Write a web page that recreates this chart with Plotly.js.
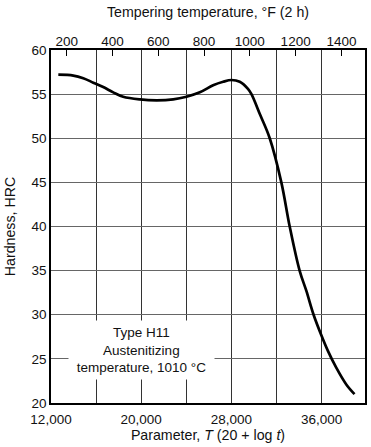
<!DOCTYPE html>
<html>
<head>
<meta charset="utf-8">
<script src="https://cdn.plot.ly/plotly-3.0.1.min.js"></script>
<style>html,body{margin:0;padding:0;background:#fff;}#chart{width:371px;height:447px;}</style>
</head>
<body>
<div id="chart"></div>
<script>
// Tempering parameter P = T(20 + log t), T in deg Rankine, t = 2 h
const parameter = [12650, 13980, 14860, 15750, 16630, 17520, 18400, 19890, 21370, 22840, 24020, 25200, 26380, 27270, 28010, 28740, 29470, 29780, 30570, 31400, 32430, 33170, 34050, 34650, 35290, 35970, 36560, 37300, 38190, 38920];
const hardness  = [57.2, 57.1, 56.8, 56.3, 55.8, 55.2, 54.7, 54.4, 54.3, 54.4, 54.7, 55.2, 56.0, 56.4, 56.6, 56.4, 55.6, 55.0, 52.6, 50.0, 45.0, 40.0, 35.0, 32.7, 30.0, 27.7, 25.9, 24.0, 22.1, 21.0];
const bottomTicks = [12000, 20000, 28000, 36000];
const topTicksF = [200, 400, 600, 800, 1000, 1200, 1400];
const pRange = [12000, 39850];
const logFactor = 20.3; // 20 + log(2)
const toF = p => p / logFactor - 460;

const font = {family: "Liberation Sans, Arial, sans-serif", size: 13.5, color: "#111"};
const titleFont = {family: "Liberation Sans, Arial, sans-serif", size: 14.2, color: "#111"};

const traces = [
  {x: parameter, y: hardness, type: "scatter", mode: "lines",
   line: {color: "#000", width: 2.7, shape: "spline", smoothing: 1},
   hoverinfo: "skip", showlegend: false},
  {x: [], y: [], xaxis: "x2", type: "scatter", mode: "none", showlegend: false, hoverinfo: "skip"}
];

const layout = {
  width: 371, height: 447,
  margin: {l: 51, r: 6, t: 50, b: 44},
  paper_bgcolor: "#fff", plot_bgcolor: "#fff",
  font: font,
  showlegend: false,
  xaxis: {
    range: pRange, tickvals: bottomTicks, tickformat: ",d",
    ticks: "", ticklabelstandoff: 3, showgrid: true, gridcolor: "#333", gridwidth: 1,
    minor: {dtick: 4000, tick0: 12000, showgrid: true, gridcolor: "#333", gridwidth: 1},
    showline: true, mirror: true, linecolor: "#000", linewidth: 1.7,
    zeroline: false, tickfont: font,
    title: {text: "Parameter, <i>T</i> (20 + log <i>t</i>)", font: titleFont, standoff: 4}
  },
  xaxis2: {
    overlaying: "x", side: "top", anchor: "y",
    range: [toF(pRange[0]), toF(pRange[1])],
    tickvals: topTicksF, ticks: "inside", ticklen: 6, tickwidth: 1, tickcolor: "#000",
    showgrid: false, zeroline: false, showline: false, tickfont: font,
    title: {text: "Tempering temperature, °F (2 h)", font: titleFont, standoff: 13}
  },
  yaxis: {
    range: [20, 60], dtick: 5, ticks: "", showgrid: true, gridcolor: "#666", gridwidth: 1,
    showline: true, mirror: true, linecolor: "#000", linewidth: 1.7,
    zeroline: false, tickfont: font,
    title: {text: "Hardness, HRC", font: titleFont, standoff: 12}
  },
  annotations: [{
    x: 20060, y: 26.0, xref: "x", yref: "y",
    text: "Type H11<br>Austenitizing<br>temperature, 1010 °C",
    showarrow: false, align: "center", font: font,
    bgcolor: "#fff", width: 145, height: 58, borderpad: 0
  }]
};

Plotly.newPlot("chart", traces, layout, {staticPlot: true, displayModeBar: false});
</script>
</body>
</html>
